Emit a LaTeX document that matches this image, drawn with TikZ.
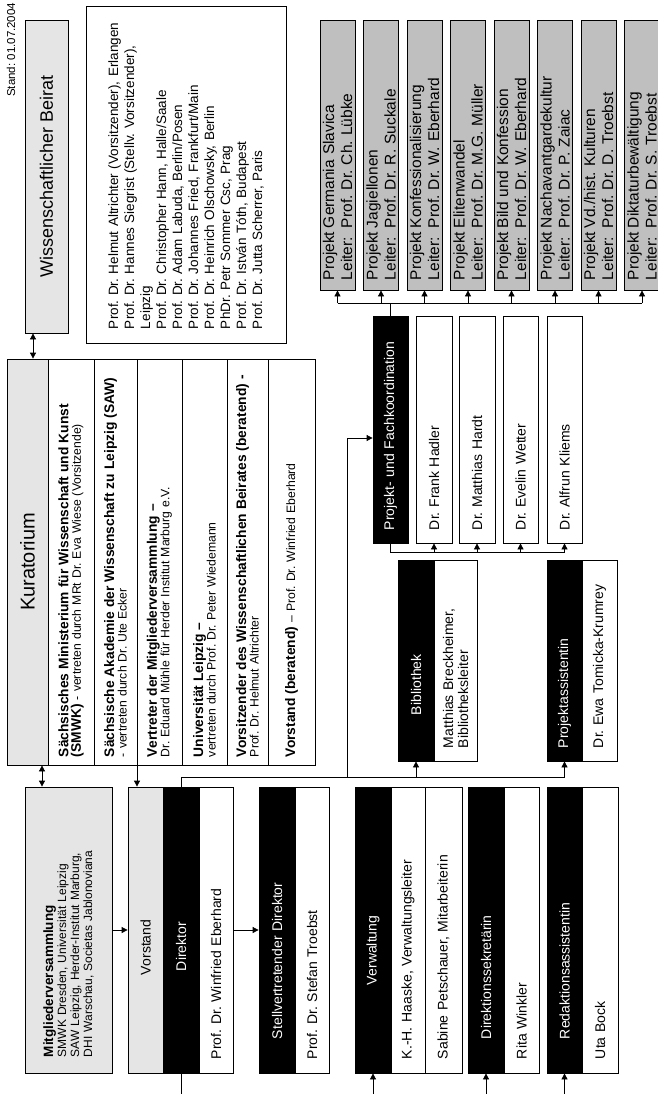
\documentclass[tikz,border=0pt]{standalone}
\usepackage{fontspec}
\setmainfont{Liberation Sans}
\usetikzlibrary{arrows.meta}
\definecolor{hell}{gray}{0.9}
\definecolor{mittel}{gray}{0.75}
\newcommand\cellfont{\fontsize{14}{15}\selectfont}
\newcommand\projfont{\fontsize{15.5}{18}\selectfont}
\newcommand\kurfont{\fontsize{12.2}{12.5}\selectfont}
\newcommand\kbf[1]{{\fontsize{13.8}{12.5}\selectfont\bfseries #1}}
\newcommand\pl[2]{\makebox[52pt][l]{Projekt}#1\\\makebox[52pt][l]{Leiter:}#2}
\lineskiplimit=-100pt
\AtBeginDocument{\frenchspacing\hyphenpenalty=10000}
\tikzset{
  cell/.style={draw, line width=0.8pt, rotate=90, align=left, inner ysep=0pt, font=\cellfont},
  blackcell/.style={cell, fill=black, text=white},
  palecell/.style={cell, fill=hell},
  projcell/.style={cell, fill=mittel, font=\projfont, minimum height=35pt, text width=250pt, inner xsep=10pt},
  kurrow/.style={cell, font=\kurfont, text width=390pt, inner xsep=8pt},
  wire/.style={line width=0.8pt},
  arr/.style={wire, -{Triangle[length=6pt,width=6pt]}},
  dbl/.style={wire, {Triangle[length=6pt,width=6pt]}-{Triangle[length=6pt,width=6pt]}},
}
\begin{document}
\begin{tikzpicture}[x=1pt, y=-1pt]
  \fill[white] (0,0) rectangle (657,1094);
  \useasboundingbox (0,0) rectangle (657,1094);

  \node[rotate=90, anchor=west, inner sep=0pt, font=\fontsize{11.5}{13}\selectfont] (stand) at (11,97) {Stand: 01.07.2004};

  % Beirat
  \node[palecell, align=center, minimum width=313pt, minimum height=43pt, font=\fontsize{18}{20}\selectfont] (beirat) at (46.5,176.5) {Wissenschaftlicher Beirat};
  \node[cell, minimum height=200pt, text width=309pt, inner xsep=14pt, font=\fontsize{13.5}{16}\selectfont] (beiratlist) at (186,174.5)
    {Prof. Dr. Helmut Altrichter (Vorsitzender), Erlangen\\
     Prof. Dr. Hannes Siegrist (Stellv. Vorsitzender),\\
     Leipzig\\
     Prof. Dr. Christopher Hann, Halle/Saale\\
     Prof. Dr. Adam Labuda, Berlin/Posen\\
     Prof. Dr. Johannes Fried, Frankfurt/Main\\
     Prof. Dr. Heinrich Olschowsky, Berlin\\
     PhDr. Petr Sommer Csc, Prag\\
     Prof. Dr. István Tóth, Budapest\\
     Prof. Dr. Jutta Scherrer, Paris};

  % Kuratorium
  \node[palecell, align=center, minimum width=406pt, minimum height=41pt, font=\fontsize{20}{22}\selectfont] (kurh) at (27.5,562) {Kuratorium};
  \node[kurrow, minimum height=46pt] (k1) at (71,562) {\kbf{Sächsisches Ministerium für Wissenschaft und Kunst}\\\kbf{(SMWK)} - vertreten durch MRt Dr. Eva Wiese (Vorsitzende)};
  \node[kurrow, minimum height=43pt] (k2) at (115.5,562) {\kbf{Sächsische Akademie der Wissenschaft zu Leipzig (SAW)}\\- vertreten durch Dr. Ute Ecker};
  \node[kurrow, minimum height=45pt] (k3) at (159.5,562) {\kbf{Vertreter der Mitgliederversammlung –}\\Dr. Eduard Mühle für Herder Institut Marburg e.V.};
  \node[kurrow, minimum height=45pt] (k4) at (204.5,562) {\kbf{Universität Leipzig –}\\vertreten durch Prof. Dr. Peter Wiedemann};
  \node[kurrow, minimum height=41pt] (k5) at (247.5,562) {\kbf{Vorsitzender des Wissenschaftlichen Beirates (beratend) -}\\Prof. Dr. Helmut Altrichter};
  \node[kurrow, minimum height=47pt] (k6) at (291.5,562) {\kbf{Vorstand (beratend)} – Prof. Dr. Winfried Eberhard};

  % Mitglieder, Vorstand, Mitarbeiter
  \node[palecell, minimum height=87pt, text width=254pt, inner xsep=16pt, font=\fontsize{12}{13}\selectfont] (mv) at (68.5,930)
    {\textbf{\fontsize{13.5}{13}\selectfont Mitgliederversammlung}\\SMWK Dresden, Universität Leipzig\\SAW Leipzig, Herder-Institut Marburg,\\DHI Warschau, Societas Jablonoviana};
  \node[palecell, minimum height=35pt, text width=90pt, inner xsep=98pt] (vs) at (145.5,930) {Vorstand};
  \node[blackcell, minimum height=36pt, text width=82pt, inner xsep=102pt] (dir) at (181,930) {Direktor};
  \node[cell, minimum height=34pt, text width=258pt, inner xsep=14pt] (vw) at (216,930) {Prof. Dr. Winfried Eberhard};

  \node[blackcell, minimum height=36pt, text width=218pt, inner xsep=34pt] (sv) at (277,930) {Stellvertretender Direktor};
  \node[cell, minimum height=34pt, text width=258pt, inner xsep=14pt] (svw) at (312,930) {Prof. Dr. Stefan Troebst};

  \node[blackcell, minimum height=36pt, text width=110pt, inner xsep=88pt] (vb) at (373,930) {Verwaltung};
  \node[cell, minimum height=34pt, text width=258pt, inner xsep=14pt] (vw1) at (408,930) {K.-H. Haaske, Verwaltungsleiter};
  \node[cell, minimum height=37pt, text width=258pt, inner xsep=14pt] (vw2) at (443.5,930) {Sabine Petschauer, Mitarbeiterin};

  \node[blackcell, minimum height=36pt, text width=218pt, inner xsep=34pt] (ds) at (486,930) {Direktionssekretärin};
  \node[cell, minimum height=35pt, text width=258pt, inner xsep=14pt] (dsw) at (521.5,930) {Rita Winkler};

  \node[blackcell, minimum height=35pt, text width=218pt, inner xsep=34pt] (rs) at (564.5,930) {Redaktionsassistentin};
  \node[cell, minimum height=36pt, text width=258pt, inner xsep=14pt] (rsw) at (600,930) {Uta Bock};

  \node[blackcell, minimum height=36pt, text width=109pt, inner xsep=46pt] (bib) at (416,660.5) {Bibliothek};
  \node[cell, minimum height=43pt, text width=175pt, inner xsep=13pt] (bibw) at (455.5,660.5) {Matthias Breckheimer,\\Bibliotheksleiter};
  \node[blackcell, minimum height=35pt, text width=175pt, inner xsep=13pt] (pa) at (564.5,660.5) {Projektassistentin};
  \node[cell, minimum height=35pt, text width=175pt, inner xsep=13pt] (paw) at (599.5,660.5) {Dr. Ewa Tomicka-Krumrey};

  % Projektkoordination
  \node[blackcell, minimum height=35pt, text width=201pt, inner xsep=13pt] (pf) at (390.5,429.5) {Projekt- und Fachkoordination};
  \node[cell, minimum height=36pt, text width=201pt, inner xsep=13pt] (hadler) at (434,429.5) {Dr. Frank Hadler};
  \node[cell, minimum height=36pt, text width=201pt, inner xsep=13pt] (hardt) at (477,429.5) {Dr. Matthias Hardt};
  \node[cell, minimum height=35pt, text width=201pt, inner xsep=13pt] (wetter) at (520.5,429.5) {Dr. Evelin Wetter};
  \node[cell, minimum height=35pt, text width=201pt, inner xsep=13pt] (kliems) at (564.5,429.5) {Dr. Alfrun Kliems};

  \node[projcell] (p1) at (337.5,155) {\pl{Germania Slavica}{Prof. Dr. Ch. Lübke}};
  \node[projcell] (p2) at (381,155) {\pl{Jagiellonen}{Prof. Dr. R. Suckale}};
  \node[projcell] (p3) at (424.5,155) {\pl{Konfessionalisierung}{Prof. Dr. W. Eberhard}};
  \node[projcell] (p4) at (468,155) {\pl{Elitenwandel}{Prof. Dr. M.G. Müller}};
  \node[projcell] (p5) at (511.5,155) {\pl{Bild und Konfession}{Prof. Dr. W. Eberhard}};
  \node[projcell] (p6) at (555,155) {\pl{Nachavantgardekultur}{Prof. Dr. P. Zaiac}};
  \node[projcell] (p7) at (598.5,155) {\pl{Vd./hist. Kulturen}{Prof. Dr. D. Troebst}};
  \node[projcell] (p8) at (642,155) {\pl{Diktaturbewältigung}{Prof. Dr. S. Troebst}};

  % Verbindungen
  \coordinate (edge) at (0,1094);
  \coordinate (bus) at (0,777);
  \coordinate (pbus) at (0,303);
  \coordinate (sbus) at (0,552);
  \coordinate (pfk) at (347,777);
  \path (beirat.west) ++(-13.5,0) coordinate (ba);
  \path (mv.east) ++(-26.5,0) coordinate (ma);
  \path (vs.east) ++(-8.5,0) coordinate (va);

  \draw[dbl] (ba) -- (ba |- kurh.east);
  \draw[dbl] (ma) -- (ma |- kurh.west);
  \draw[arr] (va |- kurh.west) -- (va);
  \draw[arr] (mv.south) -- (vs.north);
  \draw[arr] (vw.south) -- (sv.north);

  \draw[wire] (dir.west) -- (dir.west |- edge);
  \draw[wire] (dir.east) |- (pa.west |- bus);
  \draw[arr] (bib.west |- bus) -- (bib.west);
  \draw[arr] (pa.west |- bus) -- (pa.west);
  \draw[arr] (pfk) |- ([yshift=-8.5pt]pf.north);

  \draw[arr] (vb.west |- edge) -- (vb.west);
  \draw[arr] (ds.west |- edge) -- (ds.west);
  \draw[arr] (rs.west |- edge) -- (rs.west);

  \draw[wire] (pf.east) -- (pf.east |- pbus);
  \draw[wire] (p1.west |- pbus) -- (p8.west |- pbus);
  \draw[arr] (p1.west |- pbus) -- (p1.west);
  \draw[arr] (p2.west |- pbus) -- (p2.west);
  \draw[arr] (p3.west |- pbus) -- (p3.west);
  \draw[arr] (p4.west |- pbus) -- (p4.west);
  \draw[arr] (p5.west |- pbus) -- (p5.west);
  \draw[arr] (p6.west |- pbus) -- (p6.west);
  \draw[arr] (p7.west |- pbus) -- (p7.west);
  \draw[arr] (p8.west |- pbus) -- (p8.west);

  \draw[wire] (pf.west) |- (kliems.west |- sbus);
  \draw[arr] (hadler.west |- sbus) -- (hadler.west);
  \draw[arr] (hardt.west |- sbus) -- (hardt.west);
  \draw[arr] (wetter.west |- sbus) -- (wetter.west);
  \draw[arr] (kliems.west |- sbus) -- (kliems.west);
\end{tikzpicture}
\end{document}
